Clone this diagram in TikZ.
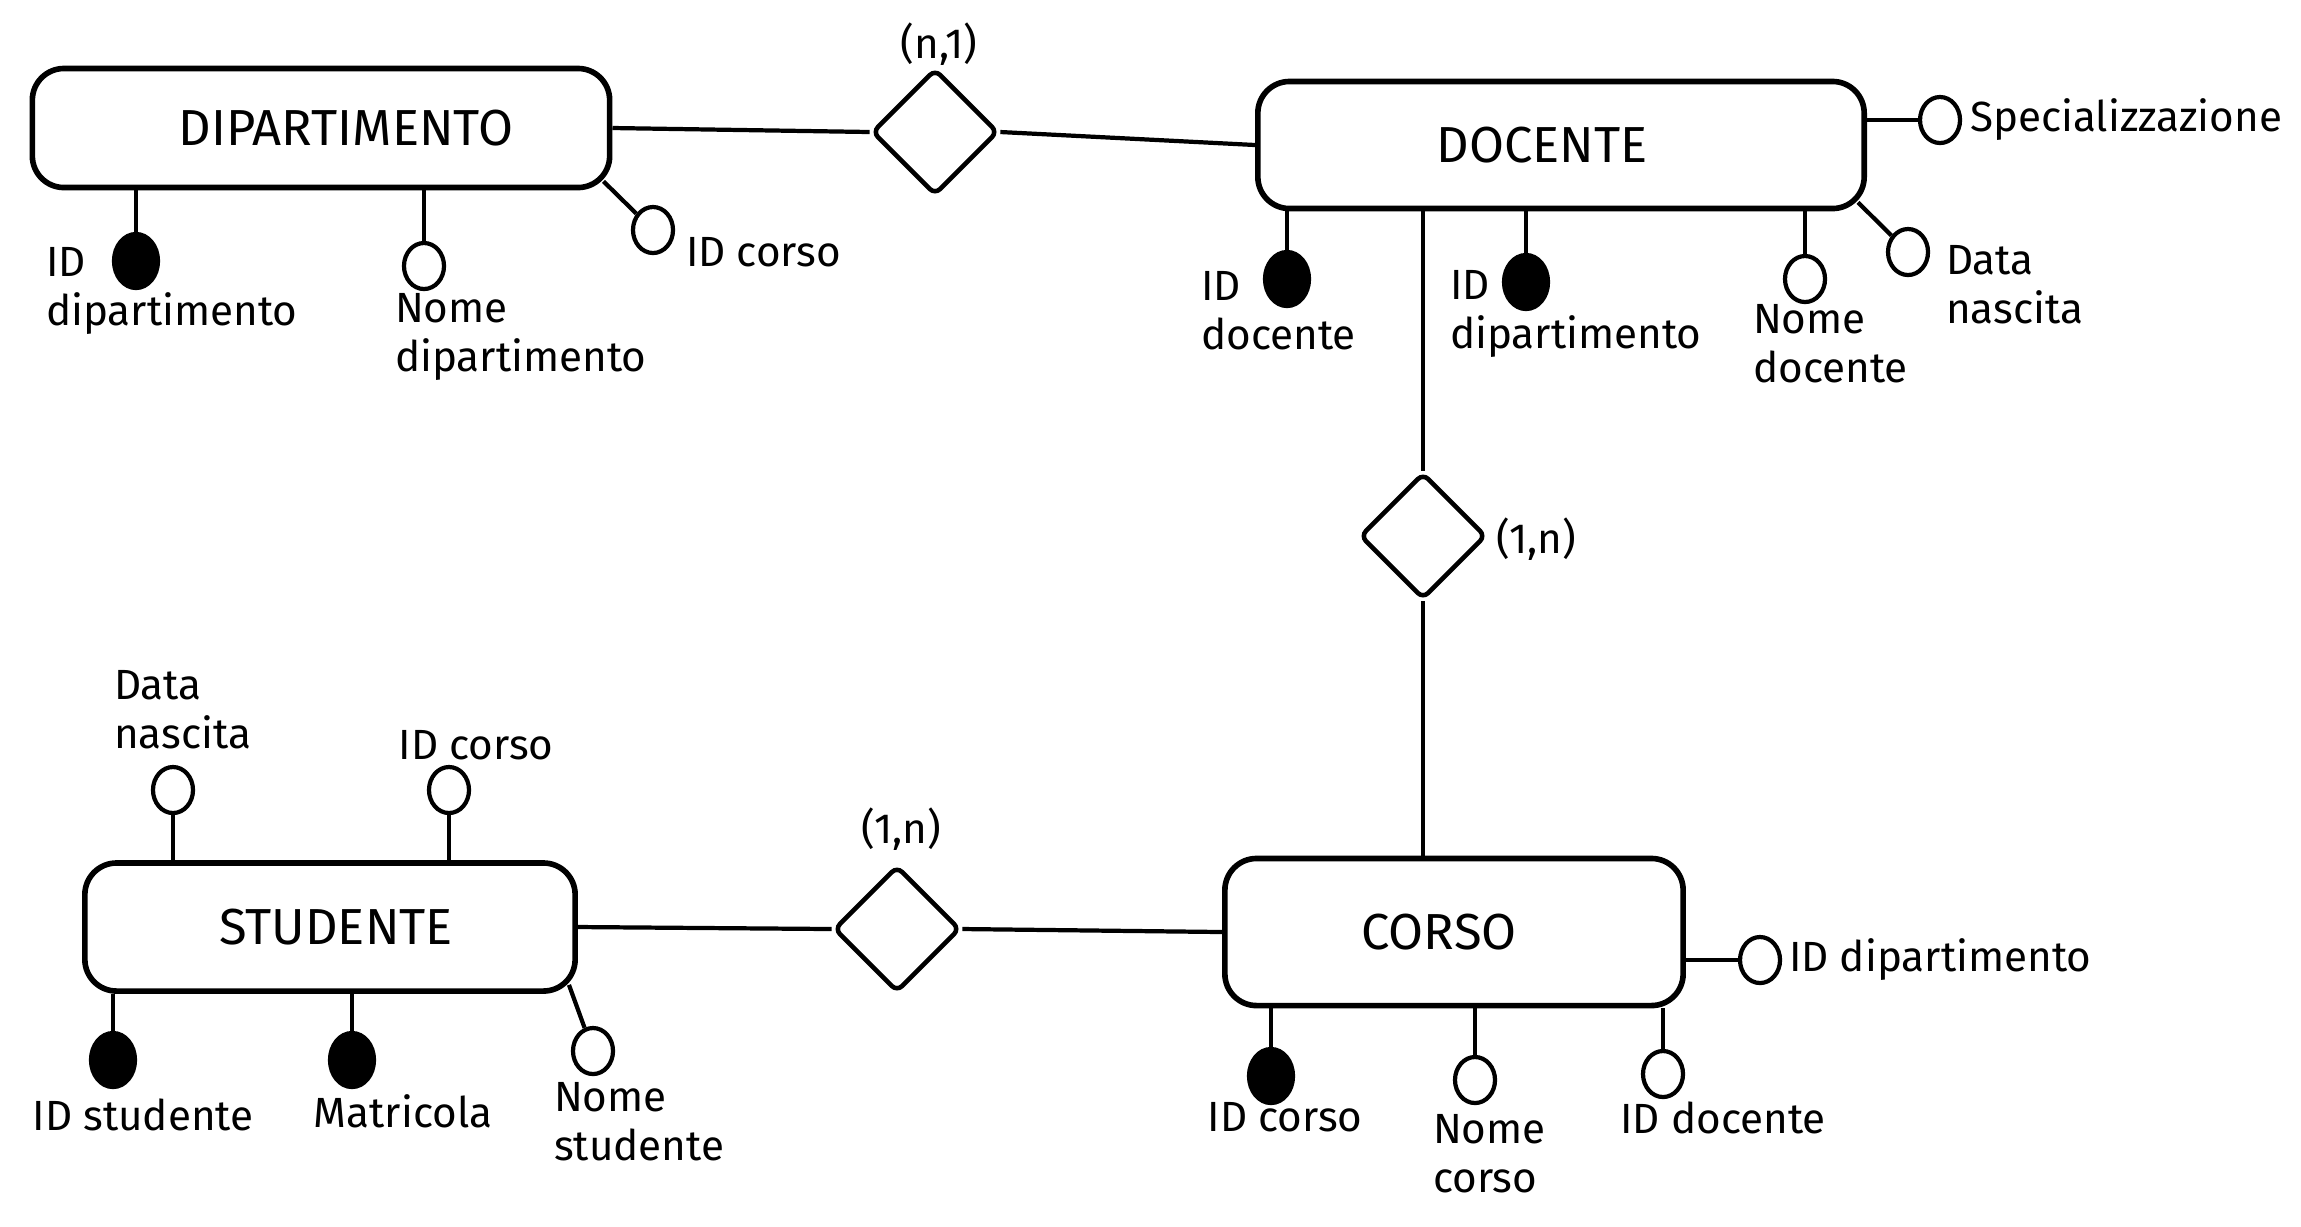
\documentclass[tikz,border=0pt]{standalone}
\usepackage{fontspec}
\setmainfont{Fira Sans}
\usetikzlibrary{positioning, shapes.geometric}

\begin{document}
\begin{tikzpicture}[x=0.01cm, y=-0.01cm, line width=1.2pt,
    ent/.style={draw, rounded corners=9pt, line width=1.6pt,
                font=\Large, inner sep=0pt},
    rel/.style={draw, diamond, line width=1.3pt, minimum size=1.26cm,
                inner sep=0pt, rounded corners=2pt},
    att/.style={draw, ellipse, minimum width=0.4cm, minimum height=0.46cm,
                inner sep=0pt},
    key/.style={att, fill=black, minimum width=0.44cm, minimum height=0.54cm},
    lbl/.style={font=\large, align=left, inner sep=0pt}]
  \useasboundingbox (0,0) rectangle (2301,1226);

  % entities
  \node[ent, minimum width=5.77cm, minimum height=1.19cm] (dip) at (321,128) {\hspace*{0.5cm}DIPARTIMENTO};
  \node[ent, minimum width=6.06cm, minimum height=1.27cm] (doc) at (1561,145) {DOCENTE\hspace*{0.38cm}};
  \node[ent, minimum width=4.58cm, minimum height=1.47cm] (cor) at (1454,932) {CORSO\hspace*{0.3cm}};
  \node[ent, minimum width=4.90cm, minimum height=1.28cm] (stu) at (330,927) {\hspace*{0.12cm}STUDENTE};

  % relations
  \node[rel] (r1) at (935,132) {};
  \node[rel] (r2) at (1423,536) {};
  \node[rel] (r3) at (897,929) {};
  \draw (dip.east) -- (r1.west);
  \draw (r1.east) -- (doc.west);
  \draw (r2 |- doc.south) -- (r2.north);
  \draw (r2.south) -- (r2 |- cor.north);
  \draw (stu.east) -- (r3.west);
  \draw (r3.east) -- (cor.west);
  \node[lbl] (c1) at (939,44) {(n,1)};
  \node[lbl, anchor=west] (c2) at (1494,539) {(1,n)};
  \node[lbl] (c3) at (901,829) {(1,n)};

  % DIPARTIMENTO attributes
  \node[key] (dip1) at (136,261) {};
  \node[att] (dip2) at (424,266) {};
  \node[att] (dip3) at (653,230) {};
  \draw (dip1 |- dip.south) -- (dip1);
  \draw (dip2 |- dip.south) -- (dip2);
  \draw ([shift={(-9,-9)}]dip.south east) -- (dip3);
  \node[lbl, anchor=west] (dip1l) at (44,291) {ID\\dipartimento};
  \node[lbl, anchor=west] (dip2l) at (393,337) {Nome\\dipartimento};
  \node[lbl, anchor=west] (dip3l) at (684,252) {ID corso};

  % DOCENTE attributes
  \node[key] (doc1) at (1287,279) {};
  \node[key] (doc2) at (1526,282) {};
  \node[att] (doc3) at (1805,279) {};
  \node[att] (doc4) at (1908,252) {};
  \node[att] (doc5) at (1940,120) {};
  \draw (doc1 |- doc.south) -- (doc1);
  \draw (doc2 |- doc.south) -- (doc2);
  \draw (doc3 |- doc.south) -- (doc3);
  \draw ([shift={(-9,-9)}]doc.south east) -- (doc4);
  \draw (doc5 -| doc.east) -- (doc5);
  \node[lbl, anchor=west] (doc1l) at (1199,311) {ID\\docente};
  \node[lbl, anchor=west] (doc2l) at (1448,314) {ID\\dipartimento};
  \node[lbl, anchor=west] (doc3l) at (1751,344) {Nome\\docente};
  \node[lbl, anchor=west] (doc4l) at (1944,285) {Data\\nascita};
  \node[lbl, anchor=west] (doc5l) at (1968,120) {Specializzazione};

  % CORSO attributes
  \node[key] (cor1) at (1271,1076) {};
  \node[att] (cor2) at (1475,1080) {};
  \node[att] (cor3) at (1663,1074) {};
  \node[att] (cor4) at (1760,960) {};
  \draw (cor1 |- cor.south) -- (cor1);
  \draw (cor2 |- cor.south) -- (cor2);
  \draw (cor3 |- cor.south) -- (cor3);
  \draw (cor4 -| cor.east) -- (cor4);
  \node[lbl] (cor1l) at (1285,1117) {ID corso};
  \node[lbl, anchor=west] (cor2l) at (1431,1154) {Nome\\corso};
  \node[lbl] (cor3l) at (1723,1118) {ID docente};
  \node[lbl, anchor=west] (cor4l) at (1787,960) {ID dipartimento};

  % STUDENTE attributes
  \node[att] (stu1) at (173,790) {};
  \node[att] (stu2) at (449,790) {};
  \node[key] (stu3) at (113,1060) {};
  \node[key] (stu4) at (352,1060) {};
  \node[att] (stu5) at (593,1051) {};
  \draw (stu1 |- stu.north) -- (stu1);
  \draw (stu2 |- stu.north) -- (stu2);
  \draw (stu3 |- stu.south) -- (stu3);
  \draw (stu4 |- stu.south) -- (stu4);
  \draw ([shift={(-9,-9)}]stu.south east) -- (stu5);
  \node[lbl, anchor=west] (stu1l) at (112,710) {Data\\nascita};
  \node[lbl] (stu2l) at (476,745) {ID corso};
  \node[lbl] (stu3l) at (143,1115) {ID studente};
  \node[lbl] (stu4l) at (403,1111) {Matricola};
  \node[lbl, anchor=west] (stu5l) at (552,1122) {Nome\\studente};
\end{tikzpicture}
\end{document}
